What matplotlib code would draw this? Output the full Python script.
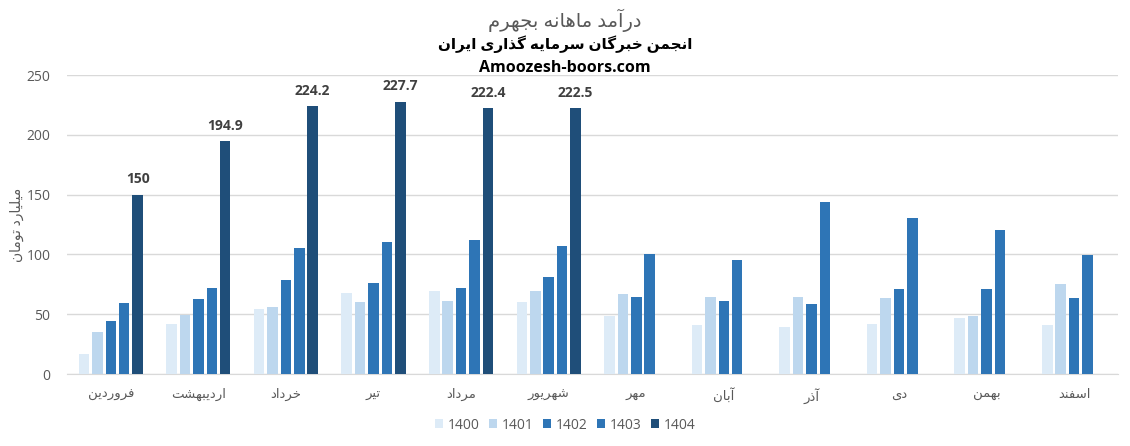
import numpy as np
import matplotlib.pyplot as plt
from matplotlib.patches import Patch

# --- data ---
months = ['فروردین', 'اردیبهشت', 'خرداد', 'تیر', 'مرداد', 'شهریور',
          'مهر', 'آبان', 'آذر', 'دی', 'بهمن', 'اسفند']
years = ['1400', '1401', '1402', '1403', '1404']
v1400 = [16.7, 41.7, 54.2, 67.5, 69.2, 60.0, 48.3, 40.8, 39.2, 41.7, 46.7, 40.8]
v1401 = [35.0, 49.4, 55.8, 60.0, 60.8, 69.2, 66.7, 64.2, 64.2, 63.3, 48.3, 75.0]
v1402 = [44.0, 62.5, 78.3, 75.8, 71.7, 80.8, 64.2, 60.8, 58.3, 70.8, 70.8, 63.3]
v1403 = [59.0, 71.7, 105.0, 110.0, 111.7, 106.7, 100.0, 95.0, 144.2, 130.8, 120.0, 99.2]
v1404 = [150, 194.9, 224.2, 227.7, 222.4, 222.5, None, None, None, None, None, None]

colors = ['#DDEBF7', '#BDD7EE', '#2E75B6', '#2E75B6', '#1F4E79']

# --- tiny Persian shaper (matplotlib does not join Arabic letters) ---
# letter: (isolated, final, initial, medial); right-joining letters have no initial/medial
FORMS = {
    'آ': (0xFE81, 0xFE82, None, None), 'ا': (0xFE8D, 0xFE8E, None, None),
    'ب': (0xFE8F, 0xFE90, 0xFE91, 0xFE92), 'پ': (0xFB56, 0xFB57, 0xFB58, 0xFB59),
    'ت': (0xFE95, 0xFE96, 0xFE97, 0xFE98), 'ج': (0xFE9D, 0xFE9E, 0xFE9F, 0xFEA0),
    'خ': (0xFEA5, 0xFEA6, 0xFEA7, 0xFEA8), 'د': (0xFEA9, 0xFEAA, None, None),
    'ذ': (0xFEAB, 0xFEAC, None, None), 'ر': (0xFEAD, 0xFEAE, None, None),
    'ز': (0xFEAF, 0xFEB0, None, None), 'س': (0xFEB1, 0xFEB2, 0xFEB3, 0xFEB4),
    'ش': (0xFEB5, 0xFEB6, 0xFEB7, 0xFEB8), 'ف': (0xFED1, 0xFED2, 0xFED3, 0xFED4),
    'گ': (0xFB92, 0xFB93, 0xFB94, 0xFB95), 'ل': (0xFEDD, 0xFEDE, 0xFEDF, 0xFEE0),
    'م': (0xFEE1, 0xFEE2, 0xFEE3, 0xFEE4), 'ن': (0xFEE5, 0xFEE6, 0xFEE7, 0xFEE8),
    'و': (0xFEED, 0xFEEE, None, None), 'ه': (0xFEE9, 0xFEEA, 0xFEEB, 0xFEEC),
    'ی': (0xFBFC, 0xFBFD, 0xFBFE, 0xFBFF),
}


def fa(text):
    def dual(c):
        return c in FORMS and FORMS[c][2] is not None
    out = []
    for i, c in enumerate(text):
        if c not in FORMS:
            out.append(c)
            continue
        prev = text[i - 1] if i > 0 else ' '
        nxt = text[i + 1] if i + 1 < len(text) else ' '
        join_prev = dual(prev)
        join_next = dual(c) and nxt in FORMS
        iso, fin, ini, med = FORMS[c]
        if join_prev and join_next:
            code = med
        elif join_prev:
            code = fin
        elif join_next:
            code = ini
        else:
            code = iso
        out.append(chr(code))
    return ''.join(reversed(out))


plt.rcParams['font.family'] = ['Open Sans', 'DejaVu Sans']

fig = plt.figure(figsize=(11.3, 4.46), dpi=100)
ax = fig.add_axes([0.0593, 0.1614, 0.930, 0.6704])

x = np.arange(len(months))
series = [v1400, v1401, v1402, v1403, v1404]
step = 0.153
for k, vals in enumerate(series):
    vals = np.array([np.nan if v is None else v for v in vals], dtype=float)
    bars = ax.bar(x + (k - 2) * step, vals, width=0.12, color=colors[k], zorder=3)
    if years[k] == '1404':
        for b, v in zip(bars, vals):
            if not np.isnan(v):
                ax.annotate(f'{v:g}', (b.get_x() + b.get_width() / 2, v),
                            xytext=(0, 6), textcoords='offset points',
                            ha='center', va='bottom', fontsize=10,
                            fontweight='bold', color='#404040')

ax.set_xlim(-0.5, 11.5)
ax.set_ylim(0, 250)
ax.set_yticks(range(0, 251, 50))
ax.yaxis.grid(True, color='#D9D9D9', linewidth=1, zorder=0)
for s in ['top', 'right', 'left']:
    ax.spines[s].set_visible(False)
ax.spines['bottom'].set_color('#D9D9D9')
ax.tick_params(axis='both', length=0, colors='#595959', labelsize=10)
ax.tick_params(axis='x', pad=10)
ax.tick_params(axis='y', pad=12)
ax.set_xticks(x)
ax.set_xticklabels([fa(m) for m in months], fontsize=9.5)
ax.set_ylabel(fa('میلیارد تومان'), color='#595959', fontsize=10, labelpad=1)

fig.text(0.5, 0.955, fa('درآمد ماهانه بجهرم'), ha='center', va='center',
         fontsize=14, color='#595959')
fig.text(0.5, 0.9, fa('انجمن خبرگان سرمایه گذاری ایران'), ha='center',
         va='center', fontsize=11, fontweight='bold', color='black')
fig.text(0.5, 0.848, 'Amoozesh-boors.com', ha='center', va='center',
         fontsize=11.5, fontweight='bold', color='black')

handles = [Patch(facecolor=c, label=y) for c, y in zip(colors, years)]
fig.legend(handles=handles, loc='center', bbox_to_anchor=(0.5, 0.047), ncol=5,
           frameon=False, handlelength=0.6, handleheight=0.6, handletextpad=0.3,
           columnspacing=0.7, fontsize=10, labelcolor='#595959')

fig.savefig('out.png', dpi=100)
